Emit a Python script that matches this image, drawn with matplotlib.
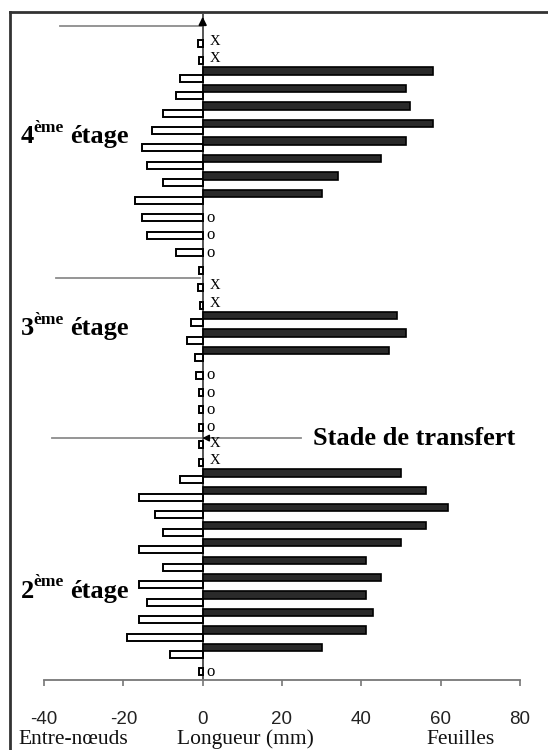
import numpy as np
import matplotlib
matplotlib.use("Agg")
import matplotlib.pyplot as plt
from matplotlib.lines import Line2D

# ---- data (rows numbered from bottom to top) ----
rows = np.arange(1, 38)
internodes = [-1.0, -8.2, -19.2, -16, -14, -16, -9.9, -16, -9.9, -12.1, -16, -5.7,
              -0.9, -1.0, -1.0, -1.0, -1.0, -1.7, -2.0, -4.0, -3.0, -0.7, -1.1, -0.9,
              -6.7, -14, -15.2, -17, -9.9, -14, -15.2, -12.8, -9.9, -6.7, -5.7, -0.8, -1.2]
leaves = [0, 30, 41.1, 42.9, 41.1, 45, 41.1, 50, 56.2, 61.9, 56.2, 50,
          0, 0, 0, 0, 0, 0, 47, 51.2, 49, 0, 0, 0,
          0, 0, 0, 30, 34, 45, 51.2, 58, 52.2, 51.2, 58, 0, 0]
marks = ["o", "", "", "", "", "", "", "", "", "", "", "",
         "X", "X", "o", "o", "o", "o", "", "", "", "X", "X", "",
         "o", "o", "o", "", "", "", "", "", "", "", "", "X", "X"]
xticks = [-40, -20, 0, 20, 40, 60, 80]
stages = [("4", 31.08), ("3", 20.09), ("2", 5.04)]

SERIF = ["Liberation Serif", "DejaVu Serif"]
SANS = ["Liberation Sans", "DejaVu Sans"]

W, H = 548, 750
fig = plt.figure(figsize=(W / 100, H / 100), dpi=100)

def px(x, y):
    return x / W, 1 - y / H

l, b = px(44, 680)
r, t = px(520, 14)
ax = fig.add_axes([l, b, r - l, t - b])
ax.set_xlim(-40, 80)
ax.set_ylim(0.34, 38.47)

rows_a = np.array(rows, dtype=float)
leaves_a = np.array(leaves, dtype=float)
inter_a = np.array(internodes, dtype=float)

# internode bars (white, below) and leaf bars (black, above)
ax.barh(rows_a - 0.2, inter_a, height=0.4, color="white", edgecolor="black",
        linewidth=1.4, zorder=3)
m = leaves_a > 0
ax.barh(rows_a[m] + 0.2, leaves_a[m], height=0.42, color="#2a2a2a",
        edgecolor="black", linewidth=1.2, zorder=3)

# X / o marks
for k, mk in zip(rows_a, marks):
    if mk == "X":
        ax.text(1.8, k - 0.1, "X", family=SERIF, fontsize=10.5, ha="left",
                va="center", zorder=4)
    elif mk == "o":
        ax.text(0.9, k - 0.2, "o", family=SERIF, fontsize=12, ha="left",
                va="center", zorder=4)

# zero axis with arrow
ax.axvline(0, color="#555555", linewidth=1.4, zorder=2)
ax.annotate("", xy=(0, 38.47), xytext=(0, 37.9),
            arrowprops=dict(arrowstyle="-|>", color="black", lw=1.2,
                            mutation_scale=12), annotation_clip=False, zorder=5)

# grey separators
ax.plot([-36, 0], [37.78, 37.78], color="#8c8c8c", lw=1.3, clip_on=False, zorder=1)
ax.plot([-37, -0.7], [23.35, 23.35], color="#8c8c8c", lw=1.3, clip_on=False, zorder=1)
ax.plot([-38, 24.9], [14.19, 14.19], color="#8c8c8c", lw=1.3, clip_on=False, zorder=1)
ax.annotate("", xy=(-0.8, 14.19), xytext=(1.6, 14.19),
            arrowprops=dict(arrowstyle="-|>", color="black", lw=1.0,
                            mutation_scale=10), annotation_clip=False, zorder=5)
ax.text(27.7, 13.79, "Stade de transfert", family=SERIF, fontsize=19,
        fontweight="bold", ha="left", va="baseline")

# stage labels
for num, yb in stages:
    ax.text(-45.8, yb, num, family=SERIF, fontsize=19, fontweight="bold",
            ha="left", va="baseline", clip_on=False)
    ax.text(-42.8, yb + 0.66, "ème", family=SERIF, fontsize=12.5, fontweight="bold",
            ha="left", va="baseline", clip_on=False)
    ax.text(-33.5, yb, "étage", family=SERIF, fontsize=19, fontweight="bold",
            ha="left", va="baseline", clip_on=False)

# axes styling
for s in ["left", "right", "top"]:
    ax.spines[s].set_visible(False)
ax.spines["bottom"].set_color("#777777")
ax.spines["bottom"].set_linewidth(1.3)
ax.set_xticks(xticks)
ax.set_xticklabels([str(v) for v in xticks], family=SANS, fontsize=13.5, color="#222222")
ax.tick_params(axis="x", direction="out", length=4, width=1.2, color="#777777", pad=18)
ax.set_yticks([])
ax.patch.set_alpha(0)

# bottom titles
for txt, xc in [("Entre-nœuds", 73), ("Longueur (mm)", 245), ("Feuilles", 461)]:
    fx, fy = px(xc, 744)
    fig.text(fx, fy, txt, family=SERIF, fontsize=15.5, ha="center", va="baseline",
             color="#111111")

# outer frame (left and top)
fig.add_artist(Line2D([10 / W, 10 / W], [0, 1 - 12 / H], transform=fig.transFigure,
                      color="#333333", lw=2))
fig.add_artist(Line2D([10 / W, 1], [1 - 12 / H, 1 - 12 / H], transform=fig.transFigure,
                      color="#333333", lw=2))

fig.savefig("out.png", dpi=100)
